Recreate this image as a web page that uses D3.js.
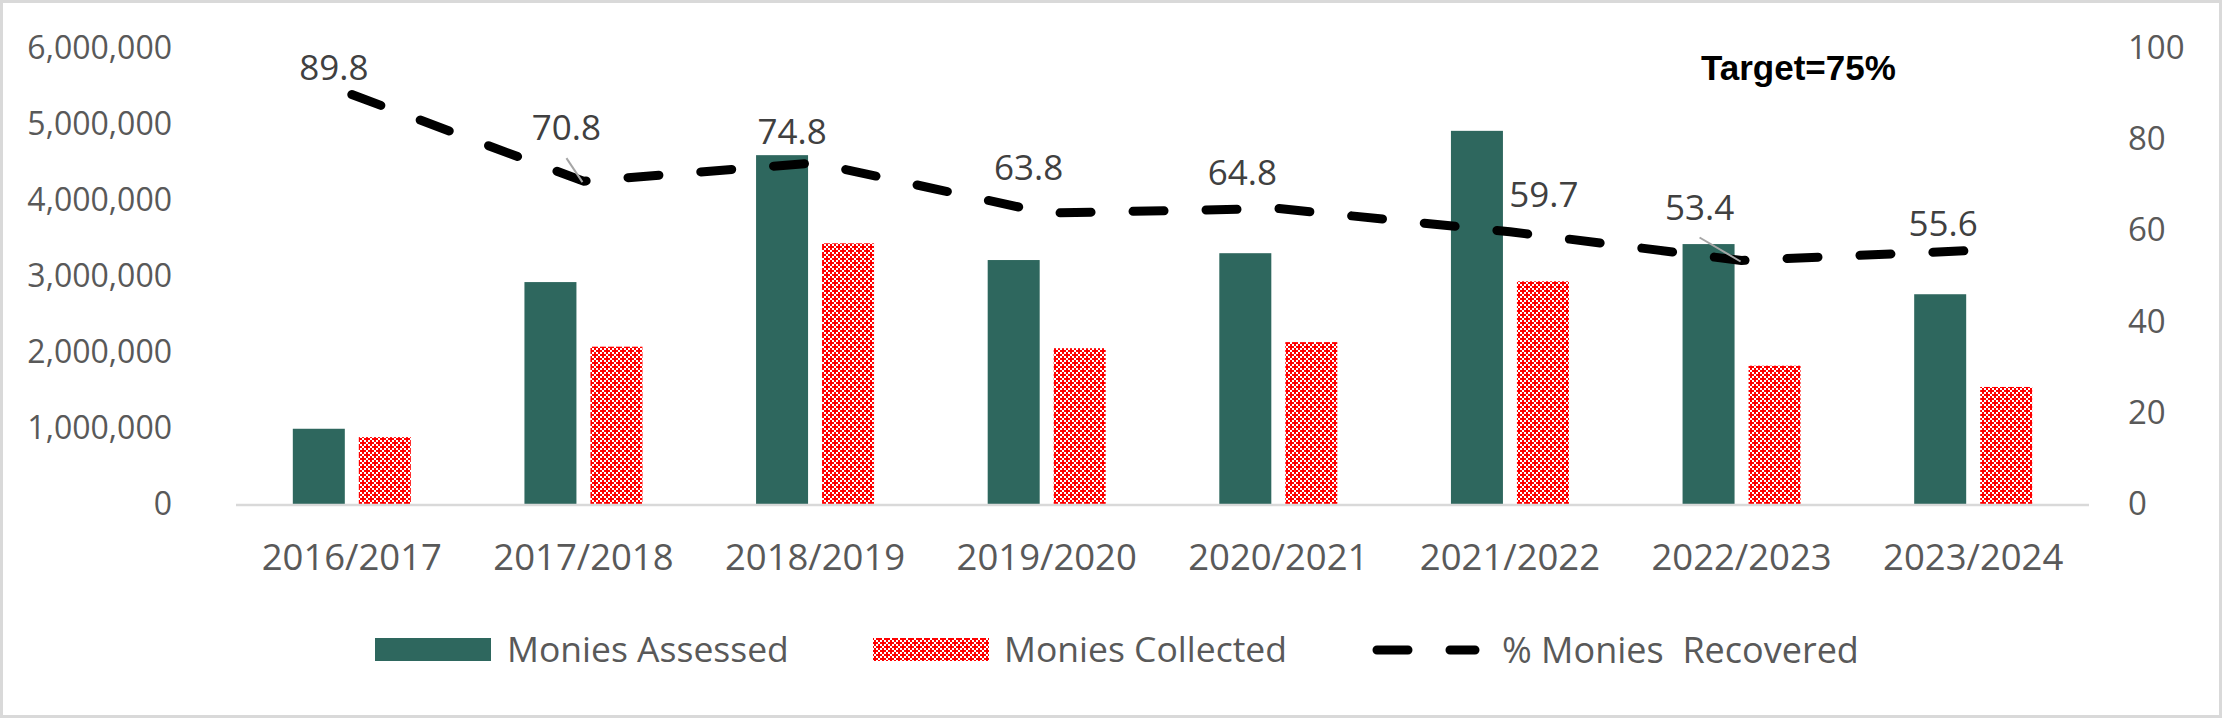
<!DOCTYPE html>
<html><head><meta charset="utf-8">
<script src="https://cdn.jsdelivr.net/npm/d3@7"></script>
<style>
body{margin:0;background:#fff;}
svg text{font-family:"Open Sans",sans-serif;}
</style>
</head><body>
<svg id="chart" width="2222" height="718"></svg>
<script>
// ---- data ----
const categories = ["2016/2017","2017/2018","2018/2019","2019/2020","2020/2021","2021/2022","2022/2023","2023/2024"];
const assessed  = [990000, 2920000, 4590000, 3210000, 3300000, 4910000, 3420000, 2760000];
const collected = [880000, 2070000, 3430000, 2050000, 2130000, 2930000, 1820000, 1540000];
const recovered = [89.8, 70.8, 74.8, 63.8, 64.8, 59.7, 53.4, 55.6];
const leftTicks  = [0, 1000000, 2000000, 3000000, 4000000, 5000000, 6000000];
const rightTicks = [0, 20, 40, 60, 80, 100];
const seriesNames = ["Monies Assessed", "Monies Collected", "% Monies  Recovered"];
const targetNote = "Target=75%";

// ---- layout (not data) ----
const labelNudge = [[-18,-27],[-17,-53],[-23,-31],[-18,-45],[-36,-36],[34,-37],[-42,-53],[-30,-27]];
const leaderIdx = [1, 6];
const W = 2222, H = 718;
const plot = {left: 236, right: 2089, top: 48, bottom: 504};
const GREEN = "#2E675E", RED = "#FF0000", GREY = "#595959", LABEL = "#404040";
// white cells of the 4x4 (2px) pattern tile
const whiteCells = [[0,0],[2,0],[3,1],[0,2],[2,2],[1,3]];

const svg = d3.select("#chart");
svg.append("rect").attr("x",1.5).attr("y",1.5).attr("width",W-3).attr("height",H-3)
  .attr("fill","#fff").attr("stroke","#d9d9d9").attr("stroke-width",3);

// pattern
const defs = svg.append("defs");
const pat = defs.append("pattern").attr("id","confetti").attr("patternUnits","userSpaceOnUse")
  .attr("width",8).attr("height",8);
pat.append("rect").attr("width",8).attr("height",8).attr("fill",RED);
pat.selectAll("rect.w").data(whiteCells).join("rect").attr("class","w")
  .attr("x", d => d[0]*2).attr("y", d => d[1]*2).attr("width",2).attr("height",2).attr("fill","#fff");

// scales
const x0 = d3.scaleBand().domain(categories).range([plot.left, plot.right]).padding(0);
const x1 = d3.scaleBand().domain(["assessed","collected"]).range([0,118]).paddingInner(2 - 118/66).paddingOuter(0);
const groupOff = (x0.bandwidth() - 118) / 2;
const yL = d3.scaleLinear().domain([0, 6000000]).range([plot.bottom, plot.top]);
const yR = d3.scaleLinear().domain([0, 100]).range([plot.bottom, plot.top]);
const cx = c => x0(c) + x0.bandwidth()/2;

// bars
const g = svg.append("g");
g.selectAll("rect.a").data(categories).join("rect").attr("class","a")
  .attr("x", c => x0(c) + groupOff + x1("assessed"))
  .attr("width", x1.bandwidth())
  .attr("y", (c,i) => yL(assessed[i]))
  .attr("height", (c,i) => yL(0) - yL(assessed[i]))
  .attr("fill", GREEN);
g.selectAll("rect.c").data(categories).join("rect").attr("class","c")
  .attr("x", c => x0(c) + groupOff + x1("collected"))
  .attr("width", x1.bandwidth())
  .attr("y", (c,i) => yL(collected[i]))
  .attr("height", (c,i) => yL(0) - yL(collected[i]))
  .attr("fill", "url(#confetti)");

// baseline
svg.append("line").attr("x1",plot.left).attr("x2",plot.right)
  .attr("y1",plot.bottom+1).attr("y2",plot.bottom+1)
  .attr("stroke","#d9d9d9").attr("stroke-width",2.5);

// axes
const axL = svg.append("g").attr("transform",`translate(${plot.left},0)`)
  .call(d3.axisLeft(yL).tickValues(leftTicks).tickFormat(d3.format(",")).tickSize(0).tickPadding(64));
axL.select(".domain").remove();
axL.selectAll("text").attr("fill",GREY).style("font-size","32px");

const axR = svg.append("g").attr("transform",`translate(${plot.right},0)`)
  .call(d3.axisRight(yR).tickValues(rightTicks).tickSize(0).tickPadding(39));
axR.select(".domain").remove();
axR.selectAll("text").attr("fill",GREY).style("font-size","33px");

const axB = svg.append("g").attr("transform",`translate(0,${plot.bottom})`)
  .call(d3.axisBottom(x0).tickSize(0));
axB.select(".domain").remove();
axB.selectAll("text").attr("fill",GREY).style("font-size","36.5px").attr("y",53).attr("dy","0.35em");

// line
const line = d3.line().x((d,i) => cx(categories[i])).y(d => yR(d));
svg.append("path").datum(recovered).attr("d", line)
  .attr("fill","none").attr("stroke","#000").attr("stroke-width",9)
  .attr("stroke-dasharray","31 42").attr("stroke-linecap","round").attr("stroke-linejoin","round");

// leader lines
leaderIdx.forEach(i => {
  const px = cx(categories[i]), py = yR(recovered[i]);
  const lx = px + labelNudge[i][0], ly = py + labelNudge[i][1];
  svg.append("line").attr("x1", lx).attr("y1", ly + 30).attr("x2", px - 1).attr("y2", py + 1)
    .attr("stroke","#a6a6a6").attr("stroke-width",2);
});

// data labels
svg.selectAll("text.dl").data(recovered).join("text").attr("class","dl")
  .attr("x",(d,i) => cx(categories[i]) + labelNudge[i][0])
  .attr("y",(d,i) => yR(d) + labelNudge[i][1])
  .attr("dy","0.35em").attr("text-anchor","middle")
  .attr("fill",LABEL).style("font-size","35px")
  .text(d => d3.format(".1f")(d));

// target note
svg.append("text").attr("x",1701).attr("y",68).attr("dy","0.35em")
  .style("font-family","'Liberation Sans',Arial,sans-serif").style("font-weight","bold")
  .style("font-size","35px").attr("fill","#000").text(targetNote);

// legend
const leg = svg.append("g");
leg.append("rect").attr("x",375).attr("y",638).attr("width",116).attr("height",23).attr("fill",GREEN);
leg.append("text").attr("x",507).attr("y",650).attr("dy","0.35em").attr("fill",GREY).style("font-size","35.5px").text(seriesNames[0]);
leg.append("rect").attr("x",873).attr("y",638).attr("width",116).attr("height",23).attr("fill","url(#confetti)");
leg.append("text").attr("x",1004).attr("y",650).attr("dy","0.35em").attr("fill",GREY).style("font-size","35.5px").text(seriesNames[1]);
leg.append("line").attr("x1",1377).attr("x2",1475).attr("y1",650).attr("y2",650)
  .attr("stroke","#000").attr("stroke-width",9).attr("stroke-dasharray","31 42").attr("stroke-linecap","round");
leg.append("text").attr("x",1502).attr("y",650).attr("dy","0.35em").attr("fill",GREY).style("font-size","36px")
  .style("white-space","pre").attr("xml:space","preserve").text(seriesNames[2]);
</script>
</body></html>
